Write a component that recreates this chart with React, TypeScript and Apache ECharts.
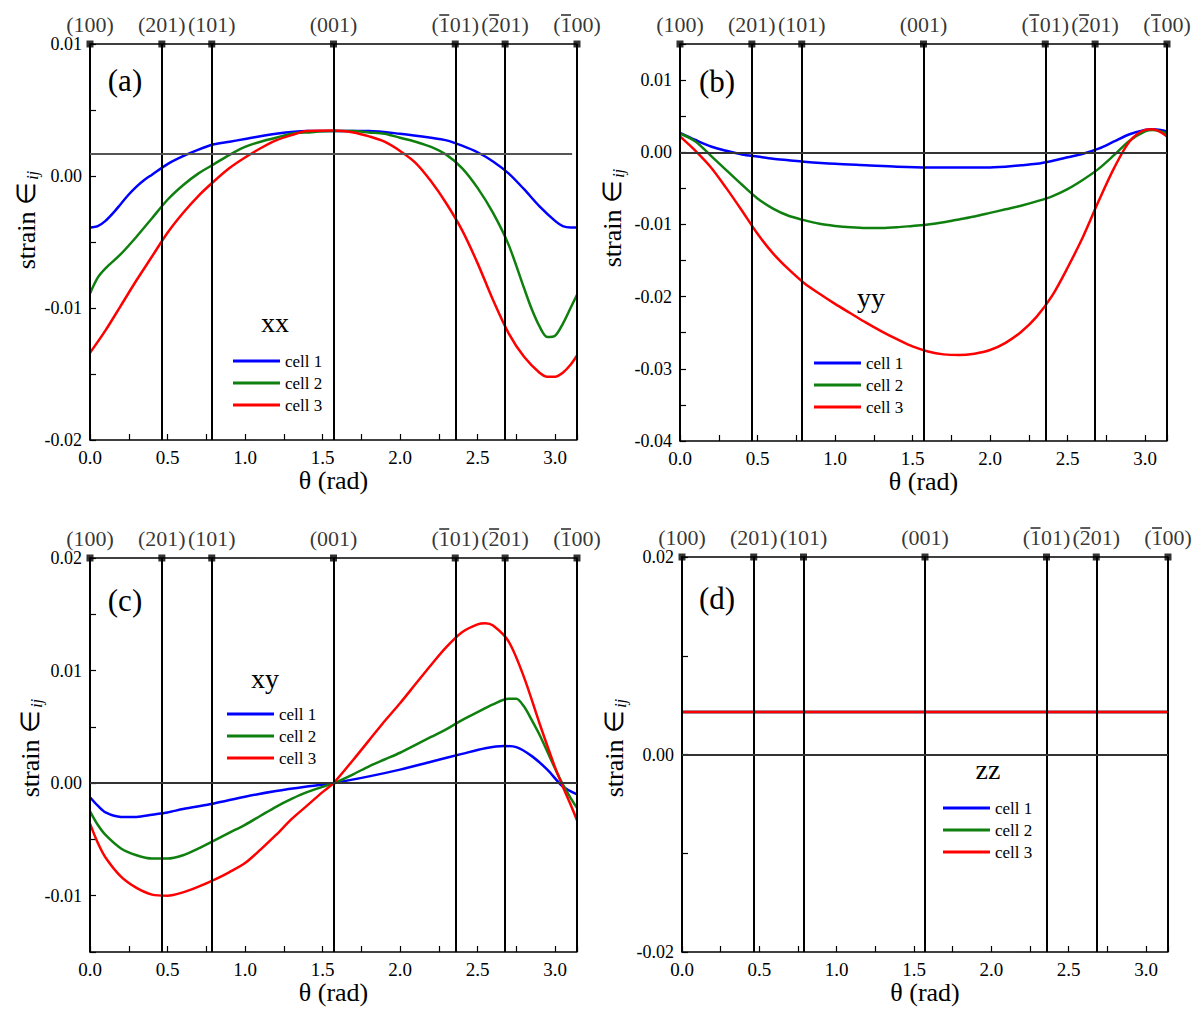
import React, { useEffect, useRef } from 'react';
import * as echarts from 'echarts';

// ---------- data ----------
const thetaMarks = [0, 0.4636, 0.7854, 1.5708, 2.3562, 2.6779, Math.PI];
const dirLabels = ['(100)', '(201)', '(101)', '(001)', '(101)', '(201)', '(100)'];
const dirBarred = [false, false, false, false, true, true, true]; // overline on the first index
const seriesNames = ['cell 1', 'cell 2', 'cell 3'];
const xTickLabels = ['0.0', '0.5', '1.0', '1.5', '2.0', '2.5', '3.0'];

const xxRefLine = 0.0017;
const xxRefEnd = 3.11;
const yyRefLine = 0;
const xyRefLine = 0;
const zzRefLine = 0;

const xxCell1 = [[0, -0.0039], [0.05, -0.0038], [0.1, -0.0034], [0.15, -0.0028], [0.2, -0.0021], [0.25, -0.0014], [0.3, -0.0008], [0.35, -0.0003], [0.4, 0.0001], [0.5, 0.0009], [0.6, 0.0015], [0.7, 0.002], [0.8, 0.0024], [0.9, 0.0026], [1.0, 0.0028], [1.2, 0.0032], [1.4, 0.0034], [1.6, 0.0034], [1.8, 0.0034], [2.0, 0.0032], [2.2, 0.0029], [2.3, 0.0027], [2.4, 0.0023], [2.5, 0.0018], [2.6, 0.0011], [2.7, 0.0002], [2.8, -0.001], [2.9, -0.0023], [3.0, -0.0034], [3.05, -0.0038], [3.1, -0.0039], [3.1416, -0.0039]];
const xxCell2 = [[0, -0.0089], [0.05, -0.0077], [0.1, -0.007], [0.2, -0.0059], [0.3, -0.0046], [0.4, -0.0032], [0.5, -0.0018], [0.6, -0.0007], [0.7, 0.0002], [0.8, 0.0009], [0.9, 0.0016], [1.0, 0.0022], [1.1, 0.0026], [1.2, 0.0029], [1.3, 0.0032], [1.4, 0.0033], [1.57, 0.0034], [1.7, 0.0034], [1.8, 0.0033], [1.9, 0.0032], [2.0, 0.0029], [2.1, 0.0026], [2.2, 0.0022], [2.3, 0.0016], [2.4, 0.0006], [2.5, -0.0009], [2.6, -0.0028], [2.7, -0.0052], [2.8, -0.0085], [2.85, -0.0101], [2.9, -0.0114], [2.95, -0.0122], [3.0, -0.0121], [3.05, -0.0112], [3.1, -0.01], [3.1416, -0.009]];
const xxCell3 = [[0, -0.0134], [0.1, -0.0117], [0.2, -0.0098], [0.3, -0.0079], [0.4, -0.0061], [0.5, -0.0043], [0.6, -0.0028], [0.7, -0.0015], [0.8, -0.0004], [0.9, 0.0006], [1.0, 0.0014], [1.1, 0.0021], [1.2, 0.0027], [1.3, 0.0031], [1.4, 0.0034], [1.57, 0.00345], [1.7, 0.0033], [1.8, 0.003], [1.9, 0.0026], [2.0, 0.0019], [2.1, 0.001], [2.2, -0.0004], [2.3, -0.0021], [2.4, -0.0041], [2.5, -0.0066], [2.6, -0.0094], [2.7, -0.0119], [2.8, -0.0137], [2.9, -0.0149], [2.95, -0.0152], [3.0, -0.0152], [3.05, -0.0149], [3.1, -0.0143], [3.1416, -0.0136]];

const yyCell1 = [[0, 0.0027], [0.1, 0.0017], [0.2, 0.0008], [0.3, 0.0002], [0.4, -0.0003], [0.5, -0.0006], [0.6, -0.0009], [0.7, -0.0011], [0.8, -0.0013], [1.0, -0.0016], [1.2, -0.0018], [1.4, -0.002], [1.6, -0.0021], [1.8, -0.0021], [2.0, -0.0021], [2.2, -0.0018], [2.3, -0.0016], [2.4, -0.0012], [2.5, -0.0007], [2.6, -0.0002], [2.7, 0.0005], [2.8, 0.0015], [2.9, 0.0025], [3.0, 0.0031], [3.05, 0.0032], [3.1, 0.0031], [3.1416, 0.0029]];
const yyCell2 = [[0, 0.0026], [0.1, 0.0015], [0.2, -0.0005], [0.3, -0.0025], [0.4, -0.0045], [0.5, -0.0064], [0.6, -0.0078], [0.7, -0.0088], [0.8, -0.0094], [0.9, -0.0099], [1.0, -0.0102], [1.1, -0.0104], [1.2, -0.0105], [1.3, -0.0105], [1.4, -0.0104], [1.5, -0.0102], [1.6, -0.01], [1.7, -0.0097], [1.8, -0.0093], [1.9, -0.0089], [2.0, -0.0084], [2.1, -0.0079], [2.2, -0.0074], [2.3, -0.0068], [2.4, -0.0061], [2.5, -0.0051], [2.6, -0.0038], [2.7, -0.0023], [2.8, -0.0004], [2.9, 0.0016], [3.0, 0.0029], [3.05, 0.0031], [3.1, 0.0029], [3.1416, 0.0026]];
const yyCell3 = [[0, 0.0022], [0.1, 0.0002], [0.2, -0.0021], [0.3, -0.005], [0.4, -0.0081], [0.5, -0.0113], [0.6, -0.014], [0.7, -0.0162], [0.8, -0.0181], [0.9, -0.0196], [1.0, -0.021], [1.1, -0.0223], [1.2, -0.0236], [1.3, -0.0248], [1.4, -0.0259], [1.5, -0.0269], [1.6, -0.0276], [1.7, -0.028], [1.8, -0.0281], [1.9, -0.0279], [2.0, -0.0274], [2.1, -0.0264], [2.2, -0.0249], [2.3, -0.0228], [2.4, -0.0199], [2.5, -0.016], [2.6, -0.0117], [2.7, -0.0068], [2.8, -0.0022], [2.9, 0.0015], [3.0, 0.0031], [3.05, 0.0032], [3.1, 0.0028], [3.1416, 0.0022]];

const xyCell1 = [[0, -0.00125], [0.05, -0.002], [0.1, -0.0026], [0.2, -0.003], [0.3, -0.003], [0.4, -0.0028], [0.5, -0.0026], [0.6, -0.0023], [0.8, -0.0018], [1.0, -0.0012], [1.2, -0.0007], [1.4, -0.0003], [1.5708, 0], [1.8, 0.0006], [2.0, 0.0012], [2.2, 0.0019], [2.4, 0.0026], [2.55, 0.0031], [2.67, 0.0033], [2.75, 0.0032], [2.85, 0.0024], [2.95, 0.0012], [3.05, -0.0003], [3.1416, -0.001]];
const xyCell2 = [[0, -0.0025], [0.05, -0.0037], [0.1, -0.0046], [0.2, -0.0058], [0.3, -0.0064], [0.4, -0.0067], [0.5, -0.0067], [0.6, -0.0064], [0.7, -0.0058], [0.8, -0.0051], [0.9, -0.0044], [1.0, -0.0037], [1.1, -0.0029], [1.2, -0.0021], [1.3, -0.0014], [1.4, -0.0008], [1.5708, 0], [1.7, 0.0008], [1.8, 0.0015], [1.9, 0.0021], [2.0, 0.0027], [2.1, 0.0034], [2.2, 0.0041], [2.3, 0.0048], [2.4, 0.0056], [2.5, 0.0063], [2.6, 0.007], [2.7, 0.0075], [2.75, 0.0075], [2.8, 0.0068], [2.85, 0.0056], [2.9, 0.0043], [3.0, 0.0013], [3.05, -0.0001], [3.1, -0.0013], [3.1416, -0.0022]];
const xyCell3 = [[0, -0.0036], [0.05, -0.0053], [0.1, -0.0066], [0.2, -0.0083], [0.3, -0.0093], [0.4, -0.0099], [0.5, -0.01], [0.6, -0.0097], [0.7, -0.0092], [0.8, -0.0086], [0.9, -0.0079], [1.0, -0.0071], [1.1, -0.0059], [1.2, -0.0046], [1.3, -0.0032], [1.4, -0.002], [1.5, -0.0008], [1.5708, 0], [1.7, 0.0021], [1.8, 0.0038], [1.9, 0.0055], [2.0, 0.0071], [2.1, 0.0088], [2.2, 0.0105], [2.3, 0.0121], [2.4, 0.0134], [2.5, 0.0141], [2.55, 0.0142], [2.6, 0.014], [2.7, 0.0126], [2.8, 0.0094], [2.9, 0.0053], [3.0, 0.0014], [3.05, -0.0003], [3.1, -0.0019], [3.1416, -0.0033]];

const zzCell1 = [[0, 0.0043], [3.1416, 0.0043]];
const zzCell2 = [[0, 0.0043], [3.1416, 0.0043]];
const zzCell3 = [[0, 0.0043], [3.1416, 0.0043]];

// ---------- style / layout ----------
const FONT = 'Liberation Serif';
const COLORS = ['#0000ff', '#0f800f', '#ff0000'];

const panels = [
  { grid: { left: 90, top: 44, width: 487, height: 396 }, yMin: -0.02, yMax: 0.01, yInterval: 0.005, yLabelStep: 0.01, refLine: xxRefLine, refEnd: xxRefEnd, refColor: '#555', data: [xxCell1, xxCell2, xxCell3], letter: '(a)', comp: 'xx', letterPos: [125, 80], compPos: [275, 322], legendPos: [228, 347], yNamePos: [26, 220] },
  { grid: { left: 680, top: 44, width: 487, height: 397 }, yMin: -0.04, yMax: 0.015, yInterval: 0.005, yLabelStep: 0.01, refLine: yyRefLine, refEnd: Math.PI, refColor: '#333', data: [yyCell1, yyCell2, yyCell3], letter: '(b)', comp: 'yy', letterPos: [717, 81], compPos: [871, 297], legendPos: [809, 349], yNamePos: [612, 218] },
  { grid: { left: 90, top: 558, width: 487, height: 394 }, yMin: -0.015, yMax: 0.02, yInterval: 0.005, yLabelStep: 0.01, refLine: xyRefLine, refEnd: Math.PI, refColor: '#333', data: [xyCell1, xyCell2, xyCell3], letter: '(c)', comp: 'xy', letterPos: [125, 600], compPos: [265, 678], legendPos: [222, 700], yNamePos: [30, 748] },
  { grid: { left: 682, top: 557, width: 486, height: 395 }, yMin: -0.02, yMax: 0.02, yInterval: 0.01, yLabelStep: 0.02, refLine: zzRefLine, refEnd: Math.PI, refColor: '#333', data: [zzCell1, zzCell2, zzCell3], letter: '(d)', comp: 'zz', letterPos: [717, 598], compPos: [988, 769], legendPos: [938, 794], yNamePos: [614, 748] },
];

const stepFormatter = (step: number, digits: number) => (v: number) => {
  const k = v / step;
  if (Math.abs(k - Math.round(k)) > 1e-6) return '';
  const r = Math.round(k) * step;
  return (Math.abs(r) < 1e-12 ? 0 : r).toFixed(digits);
};

const xLabelFormatter = (v: number) => {
  const k = v / 0.5;
  if (Math.abs(k - Math.round(k)) > 1e-6) return '';
  return xTickLabels[Math.round(k)] ?? '';
};

function buildOption() {
  const grid: any[] = [];
  const xAxis: any[] = [];
  const yAxis: any[] = [];
  const series: any[] = [];
  const legend: any[] = [];
  const graphic: any[] = [];

  panels.forEach((p, i) => {
    grid.push({ ...p.grid, containLabel: false });
    xAxis.push({
      type: 'value', gridIndex: i, min: 0, max: Math.PI, interval: 0.25,
      name: '\u03b8 (rad)', nameLocation: 'middle', nameGap: 27,
      nameTextStyle: { fontFamily: FONT, fontSize: 26, color: '#000' },
      axisLine: { show: true, onZero: false, lineStyle: { color: '#000', width: 1.5 } },
      axisTick: { show: true, inside: true, length: 6, lineStyle: { color: '#000', width: 1.2 } },
      axisLabel: { formatter: xLabelFormatter, fontFamily: FONT, fontSize: 19, color: '#000', margin: 8 },
      splitLine: { show: false },
    });
    xAxis.push({
      type: 'value', gridIndex: i, position: 'top', min: 0, max: Math.PI,
      axisLine: { show: true, onZero: false, lineStyle: { color: '#000', width: 1.5 } },
      axisTick: { show: false }, axisLabel: { show: false }, splitLine: { show: false },
    });
    yAxis.push({
      type: 'value', gridIndex: i, min: p.yMin, max: p.yMax, interval: p.yInterval,
      axisLine: { show: true, onZero: false, lineStyle: { color: '#000', width: 1.5 } },
      axisTick: { show: true, inside: true, length: 6, lineStyle: { color: '#000', width: 1.2 } },
      axisLabel: { formatter: stepFormatter(p.yLabelStep, 2), fontFamily: FONT, fontSize: 18, color: '#000', margin: 8 },
      splitLine: { show: false },
    });

    // direction markers with labels along the top edge + vertical guide lines
    series.push({
      type: 'scatter', xAxisIndex: 2 * i, yAxisIndex: i, z: 2, clip: false, silent: true,
      symbol: 'rect', symbolSize: 7, itemStyle: { color: '#000' },
      data: thetaMarks.map((t, k) => ({ value: [t, p.yMax], name: dirLabels[k] })),
      label: { show: true, position: 'top', distance: 5, formatter: '{b}', fontFamily: FONT, fontSize: 22, color: '#000' },
      markLine: {
        silent: true, symbol: 'none', precision: 8, label: { show: false },
        lineStyle: { color: '#000', width: 2, type: 'solid' },
        data: [
          ...thetaMarks.map((t) => ({ xAxis: t })),
          [
            { coord: [0, p.refLine], lineStyle: { color: p.refColor, width: 2, type: 'solid' } },
            { coord: [p.refEnd, p.refLine] },
          ],
        ],
      },
    });
    // overbars of the negative Miller indices
    series.push({
      type: 'scatter', xAxisIndex: 2 * i, yAxisIndex: i, z: 2, clip: false, silent: true,
      symbol: 'rect', symbolSize: [10, 1.6], symbolOffset: [-11, -29], itemStyle: { color: '#000' },
      data: thetaMarks.filter((_, k) => dirBarred[k]).map((t) => [t, p.yMax]),
    });

    p.data.forEach((d, k) => {
      series.push({
        type: 'line', name: seriesNames[k], xAxisIndex: 2 * i, yAxisIndex: i, z: 3,
        data: d, showSymbol: false, smooth: 0.3, silent: true,
        lineStyle: { color: COLORS[k], width: 2.5 }, itemStyle: { color: COLORS[k] },
      });
    });

    legend.push({
      data: seriesNames, orient: 'vertical', left: p.legendPos[0], top: p.legendPos[1],
      icon: 'rect', itemWidth: 47, itemHeight: 3, itemGap: 4, selectedMode: false,
      textStyle: { fontFamily: FONT, fontSize: 17, color: '#000', lineHeight: 18 },
    });

    graphic.push({
      type: 'text', x: p.letterPos[0], y: p.letterPos[1], silent: true,
      style: { text: p.letter, fontFamily: FONT, fontSize: 31, fill: '#000', textAlign: 'center', textVerticalAlign: 'middle' },
    });
    graphic.push({
      type: 'text', x: p.compPos[0], y: p.compPos[1], silent: true,
      style: { text: p.comp, fontFamily: FONT, fontSize: 28, fill: '#000', textAlign: 'center', textVerticalAlign: 'middle' },
    });
    graphic.push({
      type: 'text', x: p.yNamePos[0], y: p.yNamePos[1], rotation: Math.PI / 2, silent: true,
      style: {
        text: '{a|strain \u2208}{b|ij}',
        textAlign: 'center', textVerticalAlign: 'middle',
        rich: {
          a: { fontFamily: FONT, fontSize: 26, fill: '#000', color: '#000', lineHeight: 30 },
          b: { fontFamily: FONT, fontSize: 17, fontStyle: 'italic', fill: '#000', color: '#000', lineHeight: 30, verticalAlign: 'bottom', padding: [0, 0, 0, 2] },
        },
      },
    });
  });

  return {
    animation: false, backgroundColor: '#fff',
    textStyle: { fontFamily: FONT, color: '#000' },
    grid, xAxis, yAxis, series, legend, graphic,
  };
}

export default function App() {
  const ref = useRef<HTMLDivElement>(null);
  useEffect(() => {
    const chart = echarts.init(ref.current!, null, { renderer: 'svg' });
    chart.setOption(buildOption() as any);
    return () => chart.dispose();
  }, []);
  return <div ref={ref} style={{ position: 'fixed', left: 0, top: 0, width: 1196, height: 1023, background: '#fff' }} />;
}
